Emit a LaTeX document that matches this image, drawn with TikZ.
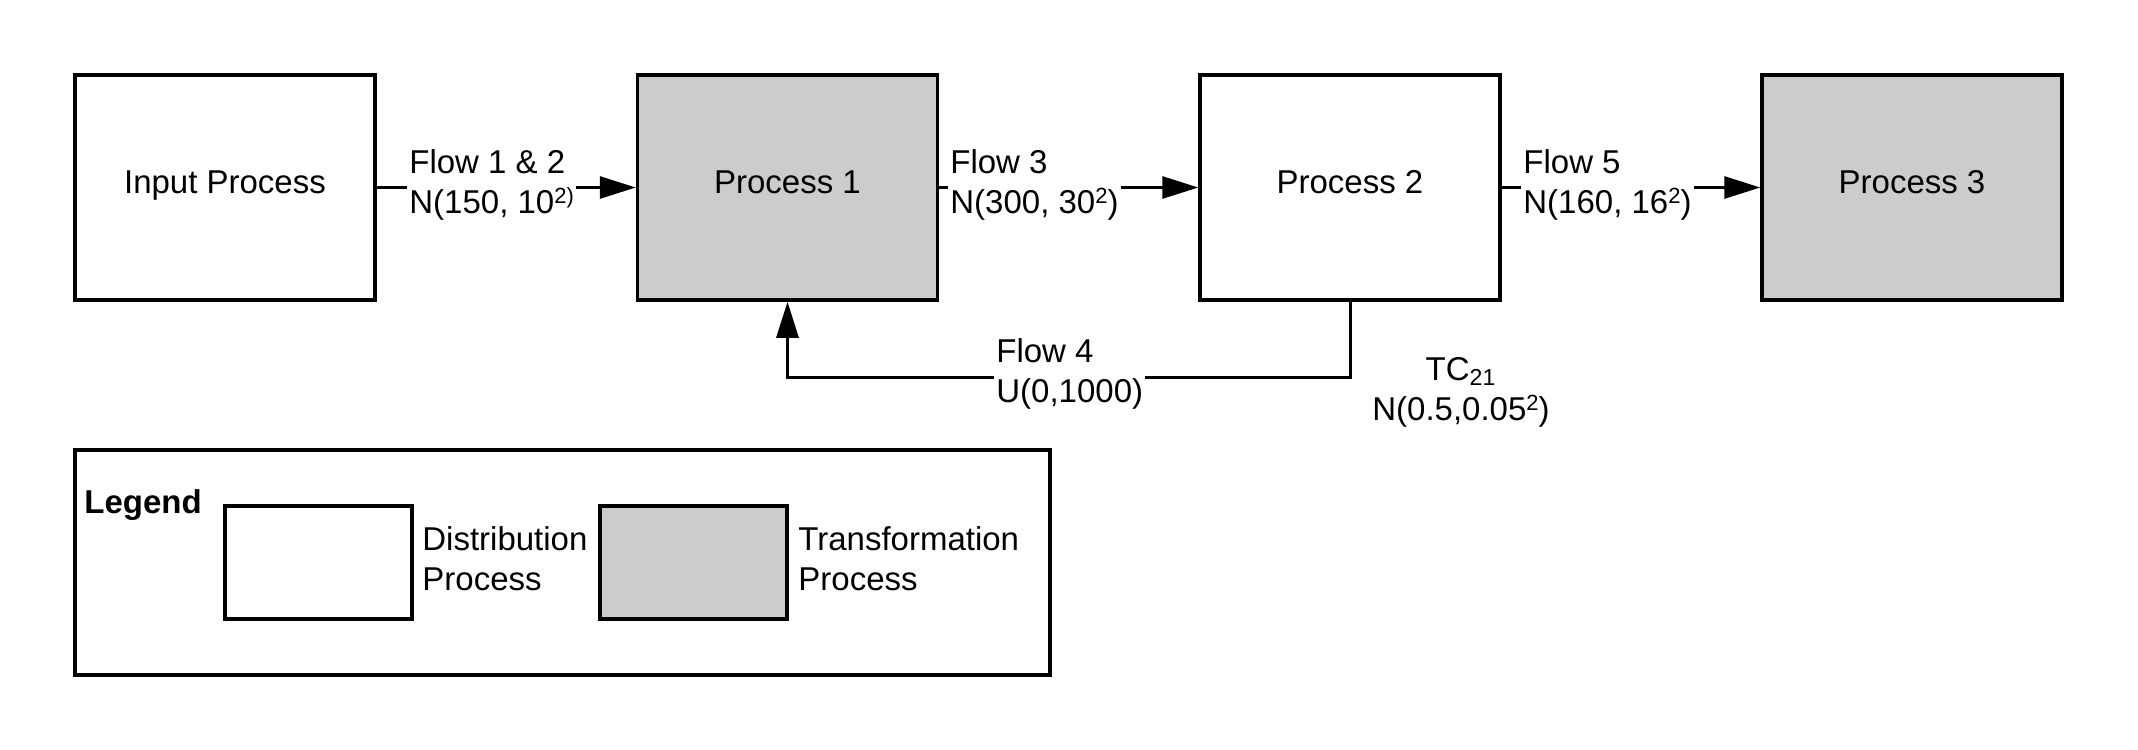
\documentclass[tikz,border=0pt]{standalone}
\usepackage{fontspec}
\setmainfont{Liberation Sans}
\usetikzlibrary{arrows.meta,calc}
\definecolor{procgray}{HTML}{CCCCCC}
\newcommand\mysup[1]{\raisebox{0.3em}{\fontsize{11}{11}\selectfont #1}}
\begin{document}
\begin{tikzpicture}[x=0.5pt,y=-0.5pt,
  every node/.style={font=\fontsize{16.5}{20}\selectfont},
  proc/.style={draw=black,line width=1.75pt,minimum width=150pt,minimum height=112.5pt,inner sep=0pt,text height=0.72em,text depth=0.14em},
  distr/.style={proc,fill=white},
  trans/.style={proc,fill=procgray},
  lgbox/.style={draw=black,line width=1.75pt,minimum width=93.5pt,minimum height=56.5pt,inner sep=0pt},
  flowlbl/.style={anchor=west,align=left,fill=white,inner sep=1pt},
  flow/.style={draw=black,line width=1.5pt,-{Triangle[length=18pt,width=11pt]}}]
\useasboundingbox (0,0) rectangle (2138,750);
\fill[white] (0,0) rectangle (2138,750);

% process boxes
\node[distr] (in) at (225,187.5) {Input Process};
\node[trans] (p1) at (787.5,187.5) {Process 1};
\node[distr] (p2) at (1350,187.5) {Process 2};
\node[trans] (p3) at (1912,187.5) {Process 3};

% connectors
\draw[flow] (in.east) -- (p1.west);
\draw[flow] (p1.east) -- (p2.west);
\draw[flow] (p2.east) -- (p3.west);
\coordinate (fby) at (1350,377);
\draw[flow] (p2.south) |- (p1.south |- fby) -- (p1.south);

% flow labels
\node[flowlbl] (l12) at (407,184.5) {Flow 1 \& 2\\N(150, 10\mysup{2)}};
\node[flowlbl] (l3) at (948,184.5) {Flow 3\\N(300, 30\mysup{2})};
\node[flowlbl] (l5) at (1521,184.5) {Flow 5\\N(160, 16\mysup{2})};
\node[flowlbl] (l4) at (994,374) {Flow 4\\U(0,1000)};
\node[align=center,inner sep=1pt] (tc) at (1461,392) {TC\textsubscript{21}\\N(0.5,0.05\mysup{2})};

% legend
\node[draw=black,line width=1.75pt,minimum width=487.5pt,minimum height=112.5pt,inner sep=0pt] (legend) at (562.5,562.5) {};
\node[anchor=base west,inner sep=0pt,font=\fontsize{16.5}{20}\selectfont\bfseries] (lgtitle) at (84,513) {Legend};
\node[lgbox,fill=white] (lgd) at (318.5,562.5) {};
\node[lgbox,fill=procgray] (lgt) at (693.5,562.5) {};
\node[anchor=west,align=left,inner sep=1pt] (lgdt) at (420,559) {Distribution\\Process};
\node[anchor=west,align=left,inner sep=1pt] (lgtt) at (796,559) {Transformation\\Process};
\end{tikzpicture}
\end{document}
